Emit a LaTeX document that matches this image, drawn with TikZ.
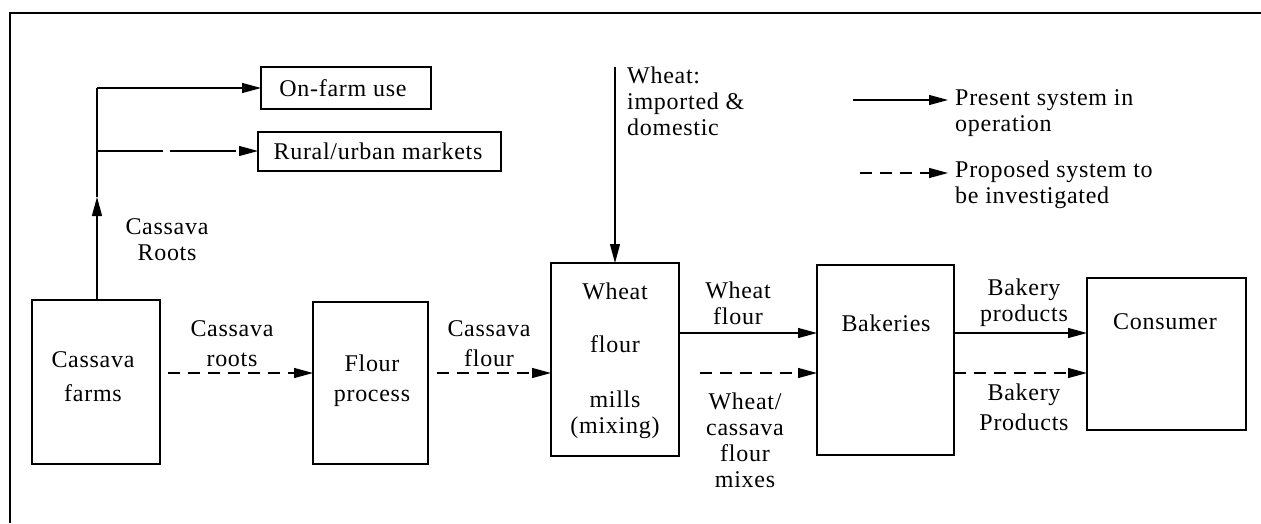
\documentclass[tikz,border=0pt]{standalone}
\usepackage{fontspec}
\setmainfont{Liberation Serif}[LetterSpace=3]
\usetikzlibrary{arrows.meta}
\newcommand\labfont{\fontsize{24}{26}\selectfont}
\begin{document}
\begin{tikzpicture}[x=1pt,y=-1pt,
  box/.style={draw, line width=1.8pt, inner sep=0pt, outer sep=0pt},
  txt/.style={font=\labfont, align=center, inner sep=0pt},
  ltxt/.style={font=\labfont, align=left, inner sep=0pt, anchor=west},
  flow/.style={line width=1.2pt, -{Triangle[length=19pt,width=10pt]}},
  present/.style={flow},
  proposed/.style={flow, dash pattern=on 12pt off 8pt},
  broken/.style={flow, dash pattern=on 66pt off 7pt},
  frame/.style={line width=1.6pt}
]
\useasboundingbox (0,0) rectangle (1261,523);

% outer frame (top and left edges)
\draw[frame] (1261,13) -- (10,13) -- (10,523);

% process boxes
\node[box, minimum width=128pt, minimum height=164pt] (farms) at (96,382) {};
\node[box, minimum width=115pt, minimum height=162pt] (flour) at (370.5,383) {};
\node[box, minimum width=128pt, minimum height=193pt] (mills) at (615,359.5) {};
\node[box, minimum width=137pt, minimum height=190pt] (bak) at (885.5,360) {};
\node[box, minimum width=159pt, minimum height=152pt] (cons) at (1166.5,354) {};
\node[box, minimum width=170pt, minimum height=42pt] (onfarm) at (346,88) {};
\node[box, minimum width=243pt, minimum height=39pt] (rural) at (379.5,151.5) {};

% box texts
\node[txt] (onfarmT) at (343,88) {On-farm use};
\node[txt] (ruralT) at (378,151.5) {Rural/urban markets};
\node[txt] (farmsT) at (93,377) {Cassava\\[8pt]farms};
\node[txt] (flourT) at (372,381) {Flour\\[4pt]process};
\node[txt] (millsT) at (615,361) {Wheat\\[27pt]flour\\[29pt]mills\\(mixing)};
\node[txt] (bakT) at (886,323) {Bakeries};
\node[txt] (consT) at (1165,322) {Consumer};

% cassava roots leaving the farms
\coordinate (split) at (97,88);
\coordinate (branch) at (97,151);
\coordinate (rise) at (97,197);
\draw[present] (farms.north -| split) -- (rise);
\draw[line width=1.2pt] (rise) -- (split);
\draw[present] (split) -- (onfarm.west |- split);
\draw[broken] (branch) -- (rural.west |- branch);
\node[txt] (rootsUp) at (167,240) {Cassava\\Roots};

% main chain
\draw[proposed, shorten <=8pt] (farms.east |- 0,373) -- (flour.west |- 0,373);
\node[txt] (lab1) at (232,344) {Cassava\\[4pt]roots};
\draw[proposed, shorten <=9pt] (flour.east |- 0,373) -- (mills.west |- 0,373);
\node[txt] (lab2) at (489,344) {Cassava\\[4pt]flour};

% wheat supply
\coordinate (wtop) at (615,67);
\draw[present] (wtop) -- (mills.north);
\node[ltxt] (wheatT) at (627,101) {Wheat:\\imported \&\\domestic};

% mills to bakeries
\draw[present] (mills.east |- 0,333) -- (bak.west |- 0,333);
\node[txt] (lab3) at (738,303) {Wheat\\flour};
\draw[proposed, shorten <=21pt] (mills.east |- 0,373) -- (bak.west |- 0,373);
\node[txt] (lab4) at (745,440) {Wheat/\\cassava\\flour\\mixes};

% bakeries to consumer
\draw[present] (bak.east |- 0,333) -- (cons.west |- 0,333);
\node[txt] (lab5) at (1024,303) {Bakery\\products};
\draw[proposed] (bak.east |- 0,373) -- (cons.west |- 0,373);
\node[txt] (lab6) at (1024,407) {Bakery\\[4pt]Products};

% legend
\coordinate (lp) at (853,100);
\coordinate (lq) at (860,173);
\node[ltxt] (legP) at (955,113) {Present system in\\operation};
\node[ltxt] (legQ) at (955,185) {Proposed system to\\be investigated};
\draw[present, shorten >=7pt] (lp) -- (lp -| legP.west);
\draw[proposed, shorten >=7pt] (lq) -- (lq -| legQ.west);
\end{tikzpicture}
\end{document}
